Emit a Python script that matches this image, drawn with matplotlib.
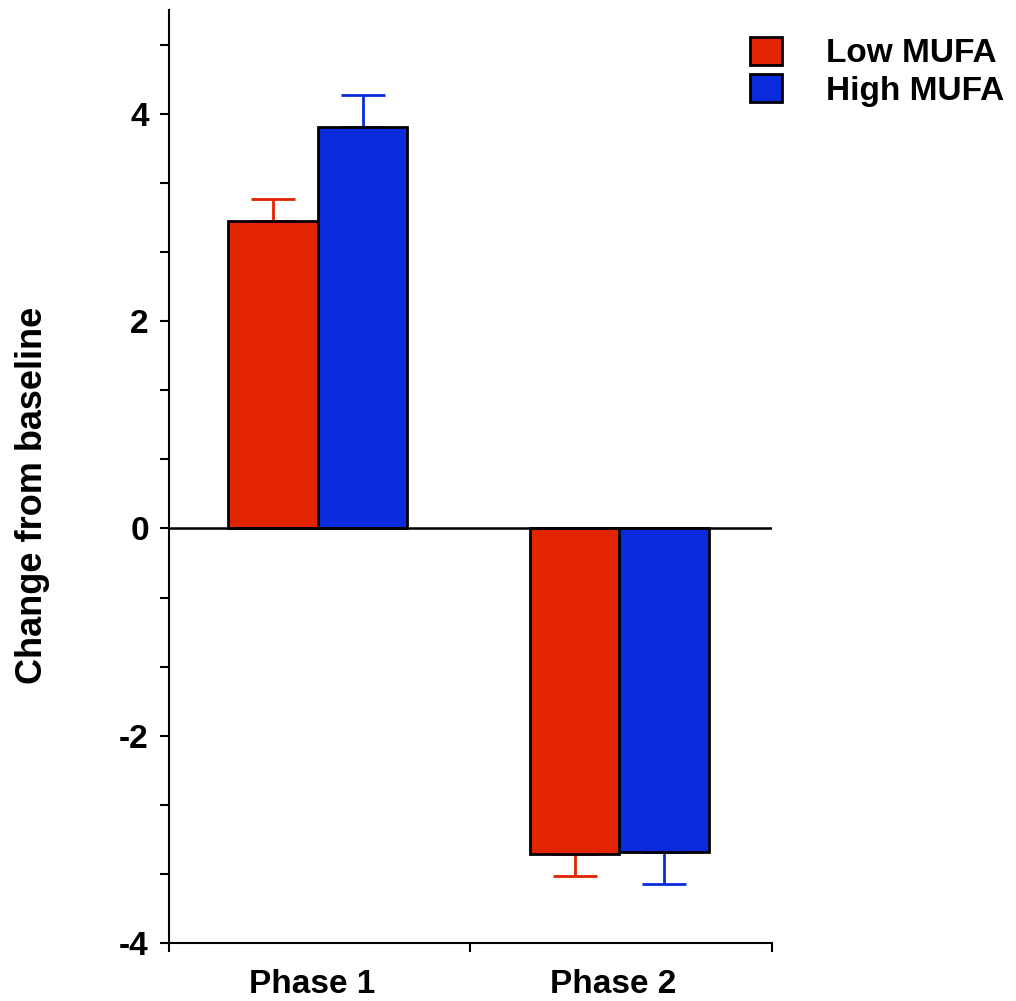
import numpy as np
import matplotlib
matplotlib.use('Agg')
import matplotlib.pyplot as plt
from matplotlib.ticker import MultipleLocator

plt.rcParams['font.family'] = ['Liberation Sans', 'DejaVu Sans']
plt.rcParams['font.weight'] = 'bold'
plt.rcParams['axes.unicode_minus'] = False

# change from baseline, per phase
phases = ['Phase 1', 'Phase 2']
groups = ['Low MUFA', 'High MUFA']
low_mufa = [2.97, -3.14]
high_mufa = [3.87, -3.12]
low_err = [0.21, 0.21]
high_err = [0.31, 0.31]
colors = ['#E32400', '#0A2BDB']

fig = plt.figure(figsize=(10.16, 10.01), dpi=100)
ax = fig.add_axes([0.1663, 0.0579, 0.5935, 0.932])

x = np.arange(len(phases)) + 0.494
w = 0.297

for i, (vals, errs) in enumerate([(low_mufa, low_err), (high_mufa, high_err)]):
    pos = x - w / 2 + i * w
    ax.bar(pos, vals, w, color=colors[i], edgecolor='black', linewidth=2,
           label=groups[i], zorder=2)
    # error bars only point away from zero
    vals = np.array(vals)
    errs = np.array(errs)
    lower = np.where(vals < 0, errs, 0)
    upper = np.where(vals > 0, errs, 0)
    ax.errorbar(pos, vals, yerr=[lower, upper], fmt='none', ecolor=colors[i],
                elinewidth=2, capsize=16, capthick=2, zorder=1)

ax.axhline(0, color='black', linewidth=1.8, zorder=3)

ax.set_xlim(0, 2)
ax.set_ylim(-4, 5)
ax.spines['top'].set_visible(False)
ax.spines['right'].set_visible(False)
ax.spines['left'].set_linewidth(1.5)
ax.spines['bottom'].set_linewidth(1.5)

ax.yaxis.set_major_locator(MultipleLocator(2))
ax.yaxis.set_minor_locator(MultipleLocator(2 / 3))
ax.set_yticks([-4, -2, 0, 2, 4])
ax.set_xticks([0, 1, 2])
ax.set_xticklabels([])
# category names sit a little left of the bar pairs
ax.set_xticks(x - 0.02, minor=True)
ax.set_xticklabels(phases, minor=True)
ax.tick_params(axis='x', which='minor', length=0, pad=19, labelsize=24)
ax.tick_params(axis='x', which='major', length=6.5, width=1.5, direction='out')
ax.tick_params(axis='y', which='both', length=6.5, width=1.5, direction='out',
               labelsize=24, pad=8)

ax.set_ylabel('Change from baseline', fontsize=26, fontweight='bold')
ax.yaxis.set_label_coords(-0.198, 0.48)

fig.legend(loc='upper left', bbox_to_anchor=(750 / 1016, 1 - 37 / 1001),
           frameon=False, fontsize=24, handlelength=0.97, handleheight=0.91,
           handletextpad=1.3, labelspacing=0.15, borderpad=0, borderaxespad=0)

fig.savefig('out.png', dpi=100)
